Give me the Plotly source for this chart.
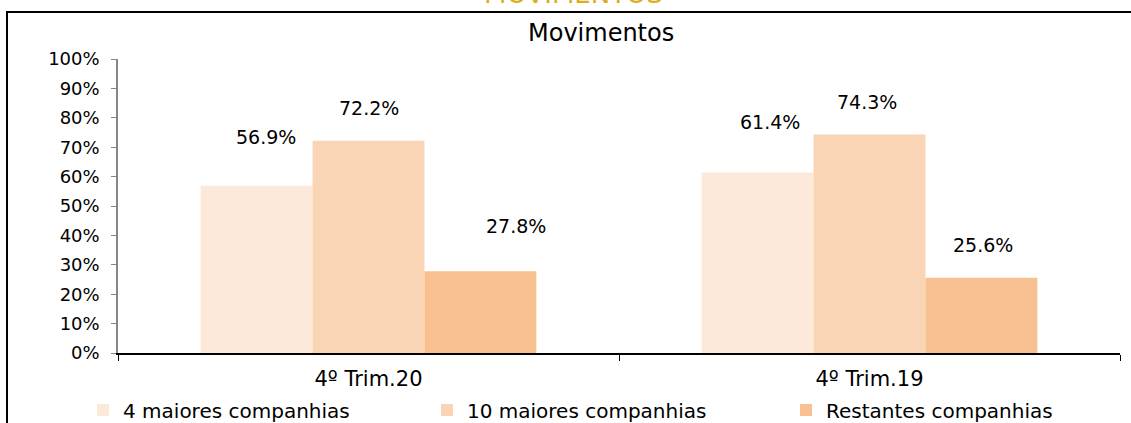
import plotly.graph_objects as go

categories = ["4º Trim.20", "4º Trim.19"]
series_names = ["4 maiores companhias", "10 maiores companhias", "Restantes companhias"]
top4 = [0.569, 0.614]
top10 = [0.722, 0.743]
rest = [0.278, 0.256]
y_ticks = [0, 0.1, 0.2, 0.3, 0.4, 0.5, 0.6, 0.7, 0.8, 0.9, 1.0]

colors = ["#FCE9DA", "#FAD5B5", "#F9C191"]
values = [top4, top10, rest]

# label placement tweaks (pixels from category centre / bar top)
label_dx = [[-103, -100], [0, -3], [147, 113]]
label_dy = [[49, 50], [33, 33], [45, 33]]

FONT = "DejaVu Sans"

# pixel geometry helpers
L, R, T, B = 118, 11, 59, 70
W, H = 1131, 423
pw, ph = W - L - R, H - T - B


def px_x(p):
    return (p - L) / pw


def px_y(p):
    return (H - B - p) / ph


fig = go.Figure()
legend_ids = ["legend", "legend2", "legend3"]
for i, (name, vals) in enumerate(zip(series_names, values)):
    fig.add_trace(go.Bar(
        x=categories, y=vals, name=name,
        marker=dict(color=colors[i], line=dict(width=0)),
        legend=legend_ids[i], showlegend=True,
    ))
    for j, cat in enumerate(categories):
        fig.add_annotation(
            x=cat, y=vals[j], xref="x", yref="y",
            text=f"{vals[j]*100:.1f}%", showarrow=False,
            xshift=label_dx[i][j], yshift=label_dy[i][j],
            font=dict(family=FONT, size=19, color="#000000"),
        )

legend_common = dict(
    orientation="h", yanchor="middle", xanchor="left",
    font=dict(family=FONT, size=20, color="#000000"),
    bgcolor="rgba(0,0,0,0)", borderwidth=0,
    itemwidth=30,
)
legend_lefts = [83, 427, 786]

fig.update_layout(
    width=W, height=H,
    margin=dict(l=L, r=R, t=T, b=B, pad=0, autoexpand=False),
    paper_bgcolor="white", plot_bgcolor="white",
    barmode="group", bargap=0.33, bargroupgap=0,
    showlegend=True,
    font=dict(family=FONT, size=18, color="#000000"),
    legend=dict(**legend_common, x=px_x(legend_lefts[0]), y=px_y(410)),
    legend2=dict(**legend_common, x=px_x(legend_lefts[1]), y=px_y(410)),
    legend3=dict(**legend_common, x=px_x(legend_lefts[2]), y=px_y(410)),
    xaxis=dict(
        showline=True, linecolor="#000000", linewidth=1.5,
        ticks="outside", tickson="boundaries", ticklen=6, tickcolor="#000000",
        showgrid=False, zeroline=False,
        ticklabelstandoff=6,
        tickfont=dict(family=FONT, size=21),
    ),
    yaxis=dict(
        range=[0, 1], tickvals=y_ticks, tickformat=".0%",
        showline=True, linecolor="#868686", linewidth=1.5,
        ticks="outside", ticklen=5, tickcolor="#868686",
        showgrid=False, zeroline=False,
        ticklabelstandoff=8,
        tickfont=dict(family=FONT, size=18),
    ),
)

# chart title
fig.add_annotation(
    text="Movimentos", x=px_x(601), y=px_y(33), xref="paper", yref="paper",
    showarrow=False, xanchor="center", yanchor="middle",
    font=dict(family=FONT, size=24, color="#000000"),
)
# clipped page heading above the chart box (only its lower edge shows)
fig.add_annotation(
    text="MOVIMENTOS", x=px_x(573), y=px_y(11), xref="paper", yref="paper",
    showarrow=False, xanchor="center", yanchor="bottom",
    font=dict(family=FONT, size=26, color="#D9AE1E"),
)
# chart box border
fig.add_shape(
    type="rect", xref="paper", yref="paper",
    x0=px_x(7), x1=px_x(1140), y0=px_y(440), y1=px_y(12),
    line=dict(color="#000000", width=2), fillcolor="rgba(0,0,0,0)",
    layer="above",
)

fig.write_html(
    "out.html",
    config={"displayModeBar": False},
    post_script="document.body.style.margin='0';document.body.style.overflow='hidden';",
)
